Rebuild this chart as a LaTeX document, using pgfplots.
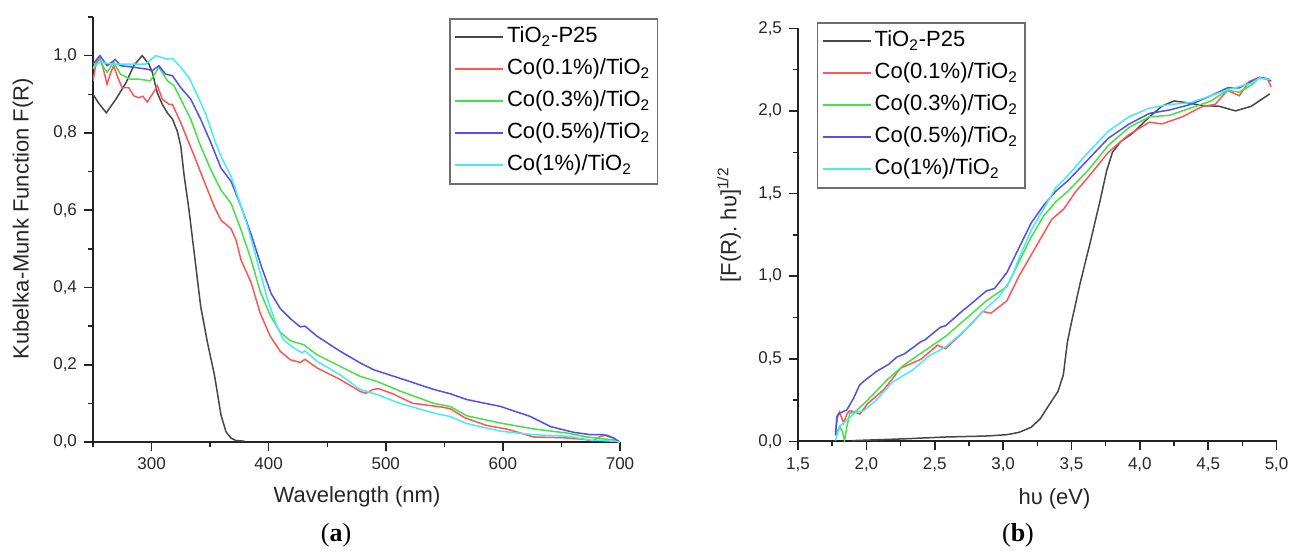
\documentclass[border=0pt]{standalone}
\usepackage{fontspec}
\setmainfont{Liberation Sans}
\newfontfamily\serifb{Liberation Serif}
\usepackage{pgfplots}
\pgfplotsset{compat=1.18}
\definecolor{cBlack}{RGB}{70,70,70}
\definecolor{cRed}{RGB}{255,85,85}
\definecolor{cGreen}{RGB}{70,225,70}
\definecolor{cBlue}{RGB}{80,80,235}
\definecolor{cCyan}{RGB}{70,235,245}
\definecolor{cAxis}{RGB}{35,35,35}
\definecolor{cLeg}{RGB}{110,110,110}
\pgfplotsset{
 mystyle/.style={
  scale only axis,
  axis x line=bottom, axis y line=left,
  axis line style={-, line width=0.9pt, color=cAxis},
  tick align=outside,
  major tick length=4.5pt, minor tick length=2.5pt,
  major tick style={line width=0.8pt, color=cAxis},
  minor tick style={line width=0.7pt, color=cAxis},
  tick label style={font=\fontsize{8.5}{10}\selectfont, color=black!85},
  /pgf/number format/assume math mode=true,
  label style={font=\fontsize{11}{13}\selectfont, color=black!85},
  legend cell align=left,
  legend style={draw=cLeg, line width=0.7pt, font=\fontsize{11}{13}\selectfont,
    row sep=1.5pt, inner xsep=2pt, inner ysep=2pt,
    nodes={inner sep=1.5pt, text height=8.5pt, text depth=3pt}},
  legend image code/.code={\draw[##1, line width=1pt] (0pt,0pt) -- (24pt,0pt);},
  every axis plot/.append style={line width=0.75pt},
 }
}
\begin{document}
\begin{tikzpicture}
\useasboundingbox (0,0) rectangle (648pt,276pt);
\begin{axis}[mystyle,
  at={(46.5pt,55pt)}, anchor=south west,
  width=263.5pt, height=212.5pt,
  xmin=250, xmax=700, ymin=0, ymax=1.1,
  xtick={300,400,500,600,700}, minor xtick={250,350,450,550,650},
  ytick={0,0.2,0.4,0.6,0.8,1.0}, minor ytick={0.1,0.3,0.5,0.7,0.9,1.1},
  yticklabel style={/pgf/number format/.cd, fixed, fixed zerofill, precision=1, use comma},
  xlabel={Wavelength (nm)}, ylabel={Kubelka-Munk Function F(R)},
  xlabel style={at={(axis description cs:0.501,-0.129)}, anchor=center},
  ylabel style={at={(axis description cs:-0.133,0.525)}, anchor=center},
  legend style={at={(axis description cs:1.072,0.997)}, anchor=north east},
]
\addplot[cBlack] table {
x y
250 0.900
254.6 0.878
261.3 0.852
269.5 0.887
278.2 0.930
284.8 0.974
292 1.000
297.7 0.978
300.6 0.957
304.9 0.904
309 0.875
313.5 0.852
318 0.835
322 0.804
325 0.765
327.8 0.690
332 0.600
336.4 0.490
342 0.350
347.9 0.255
353.6 0.175
359.3 0.070
363.6 0.026
367.9 0.010
372 0.004
379.4 0.002
};
\addlegendentry{TiO\textsubscript{2}-P25}
\addplot[cRed] table {
x y
250 0.935
252 0.970
255.6 0.996
258 0.975
262 0.926
265 0.955
267.6 0.974
271 0.945
274.8 0.917
280.5 0.917
284.8 0.896
289 0.891
292.5 0.895
296.3 0.880
300.6 0.900
305 0.922
309.2 0.887
315 0.874
317.8 0.874
325 0.826
330.7 0.783
337.8 0.730
345 0.674
353.6 0.609
359.3 0.574
367.9 0.552
372.2 0.522
376.5 0.470
385.1 0.412
392.7 0.334
401.3 0.274
409.8 0.235
418.4 0.213
427 0.206
431 0.214
441.2 0.192
461 0.162
478 0.131
483 0.126
489 0.136
494 0.138
506.7 0.124
512 0.116
523 0.100
529 0.098
539 0.094
548.7 0.090
555 0.086
568 0.062
586 0.043
604 0.033
618.7 0.020
626 0.013
640 0.012
652 0.011
669 0.007
676.5 0.003
683.7 0.015
689 0.018
694.5 0.010
699 0.000
};
\addlegendentry{Co(0.1\%)/TiO\textsubscript{2}}
\addplot[cGreen] table {
x y
250 0.965
254.7 0.996
258 0.975
262 0.957
267.6 0.983
273.4 0.952
282 0.939
289 0.939
299 0.935
306.3 0.970
313.5 0.935
319.2 0.922
325 0.887
333.5 0.835
342 0.765
350.7 0.704
359.3 0.652
368 0.617
376.5 0.548
385 0.472
392.7 0.390
401.3 0.328
409.8 0.285
418.4 0.262
429.8 0.252
441.2 0.226
461 0.196
478 0.170
492.4 0.157
512 0.132
541 0.100
555 0.092
569 0.068
598 0.049
626 0.034
655 0.023
672 0.013
694.7 0.005
700 0.0
};
\addlegendentry{Co(0.3\%)/TiO\textsubscript{2}}
\addplot[cBlue] table {
x y
250 0.978
256 1.000
262 0.974
269 0.990
273.4 0.974
282 0.971
296.3 0.965
300.6 0.961
306.3 0.974
312 0.952
317.8 0.948
325 0.917
333.5 0.887
342 0.835
350.7 0.774
359.3 0.709
368 0.674
376.5 0.609
385 0.538
393.7 0.455
402 0.385
410 0.345
419 0.318
427 0.298
431 0.300
441.2 0.274
461 0.235
478 0.205
489.6 0.187
512 0.165
541 0.136
555 0.125
569 0.110
598 0.092
623.5 0.066
640.6 0.040
660.5 0.025
674.8 0.019
686 0.019
694.7 0.010
700 0.0
};
\addlegendentry{Co(0.5\%)/TiO\textsubscript{2}}
\addplot[cCyan] table {
x y
250 0.970
256 0.983
267.6 0.978
282 0.978
294.8 0.978
303.4 1.000
313.5 0.991
317.8 0.993
325 0.970
332 0.943
339.3 0.896
346.4 0.848
353.6 0.783
359.3 0.739
368 0.687
376.5 0.609
382.2 0.557
390.8 0.460
399.4 0.365
407 0.300
412.5 0.265
421 0.244
428.4 0.231
431 0.236
441.2 0.209
461 0.174
478 0.136
492.4 0.123
512 0.100
541 0.075
555 0.066
569 0.048
598 0.028
626 0.019
655 0.015
675 0.005
695 0.002
700 0.0
};
\addlegendentry{Co(1\%)/TiO\textsubscript{2}}
\end{axis}

\begin{axis}[mystyle,
  at={(399pt,55.35pt)}, anchor=south west,
  width=239.3pt, height=206.5pt,
  xmin=1.5, xmax=5.0, ymin=0, ymax=2.5,
  xtick={1.5,2.0,2.5,3.0,3.5,4.0,4.5,5.0}, minor xtick={1.75,2.25,2.75,3.25,3.75,4.25,4.75},
  ytick={0,0.5,1.0,1.5,2.0,2.5}, minor ytick={0.25,0.75,1.25,1.75,2.25},
  yticklabel style={/pgf/number format/.cd, fixed, fixed zerofill, precision=1, use comma},
  xticklabel style={/pgf/number format/.cd, fixed, fixed zerofill, precision=1, use comma},
  xlabel={hυ (eV)}, ylabel={[F(R). hυ]\textsuperscript{1/2}},
  xlabel style={at={(axis description cs:0.536,-0.14)}, anchor=center},
  ylabel style={at={(axis description cs:-0.144,0.524)}, anchor=center},
  legend style={at={(axis description cs:0.0397,1.015)}, anchor=north west},
]
\addplot[cBlack] table {
x y
1.894 0.004
2.28 0.015
2.58 0.026
2.877 0.032
3.027 0.040
3.116 0.054
3.148 0.065
3.205 0.085
3.27 0.135
3.344 0.230
3.40 0.300
3.44 0.400
3.47 0.600
3.50 0.720
3.563 0.956
3.636 1.200
3.71 1.460
3.758 1.640
3.80 1.750
3.86 1.814
3.95 1.867
4.07 1.964
4.16 2.028
4.25 2.060
4.34 2.050
4.46 2.032
4.58 2.028
4.70 2.000
4.815 2.028
4.95 2.103
};
\addlegendentry{TiO\textsubscript{2}-P25}
\addplot[cRed] table {
x y
1.774 0.058
1.790 0.150
1.804 0.176
1.82 0.140
1.834 0.111
1.86 0.170
1.88 0.186
1.92 0.175
1.953 0.165
2.01 0.229
2.13 0.315
2.25 0.443
2.40 0.497
2.52 0.582
2.58 0.561
2.73 0.679
2.85 0.786
2.91 0.775
3.027 0.850
3.116 1.000
3.235 1.171
3.355 1.343
3.444 1.407
3.533 1.514
3.623 1.600
3.77 1.750
3.92 1.857
4.07 1.932
4.16 1.921
4.31 1.964
4.46 2.028
4.55 2.039
4.64 2.124
4.727 2.092
4.80 2.178
4.875 2.203
4.935 2.190
4.96 2.146
};
\addlegendentry{Co(0.1\%)/TiO\textsubscript{2}}
\addplot[cGreen] table {
x y
1.774 0.036
1.804 0.090
1.825 0.060
1.84 0.004
1.86 0.100
1.88 0.170
1.92 0.180
2.01 0.250
2.16 0.379
2.28 0.465
2.43 0.550
2.58 0.636
2.73 0.743
2.877 0.850
3.027 0.936
3.116 1.086
3.205 1.236
3.296 1.364
3.385 1.450
3.474 1.514
3.623 1.642
3.77 1.792
3.92 1.900
4.07 1.964
4.22 1.974
4.37 2.017
4.52 2.060
4.64 2.124
4.727 2.114
4.815 2.156
4.875 2.200
4.95 2.190
};
\addlegendentry{Co(0.3\%)/TiO\textsubscript{2}}
\addplot[cBlue] table {
x y
1.774 0.036
1.784 0.150
1.80 0.170
1.82 0.176
1.857 0.190
1.906 0.260
1.95 0.340
1.983 0.365
2.077 0.425
2.162 0.465
2.223 0.510
2.28 0.530
2.393 0.600
2.43 0.615
2.54 0.690
2.58 0.700
2.71 0.795
2.73 0.807
2.877 0.910
2.937 0.925
3.027 1.021
3.116 1.171
3.205 1.321
3.296 1.428
3.385 1.514
3.474 1.578
3.623 1.707
3.77 1.835
3.92 1.920
4.07 1.985
4.22 2.006
4.37 2.039
4.52 2.092
4.64 2.139
4.727 2.139
4.815 2.178
4.875 2.203
4.935 2.195
4.96 2.180
};
\addlegendentry{Co(0.5\%)/TiO\textsubscript{2}}
\addplot[cCyan] table {
x y
1.774 0.004
1.804 0.090
1.864 0.133
1.92 0.176
1.983 0.186
2.073 0.250
2.19 0.358
2.34 0.433
2.46 0.518
2.58 0.572
2.73 0.679
2.877 0.807
2.967 0.872
3.056 0.979
3.116 1.107
3.205 1.278
3.296 1.407
3.385 1.535
3.474 1.610
3.623 1.750
3.77 1.878
3.92 1.964
4.07 2.017
4.22 2.039
4.37 2.050
4.52 2.092
4.67 2.135
4.815 2.167
4.875 2.200
4.95 2.190
};
\addlegendentry{Co(1\%)/TiO\textsubscript{2}}
\end{axis}
\node[font=\serifb\fontsize{13}{15}\selectfont] at (168pt,8.5pt) {(\textbf{a})};
\node[font=\serifb\fontsize{13}{15}\selectfont] at (509pt,8.5pt) {(\textbf{b})};
\end{tikzpicture}
\end{document}
